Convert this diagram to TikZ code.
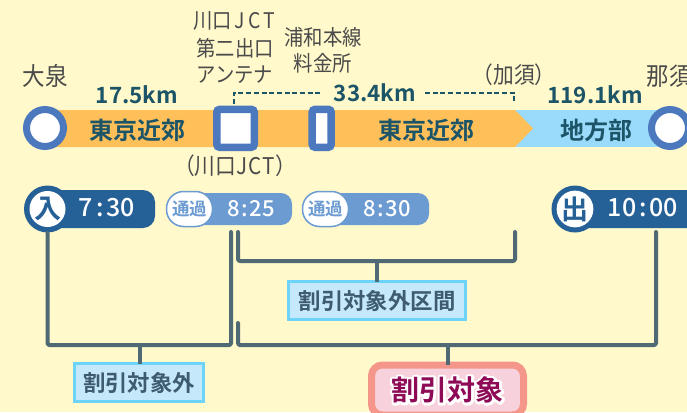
\documentclass[tikz,border=0pt]{standalone}
\usepackage{fontspec}
\setmainfont{Noto Sans CJK JP}[BoldFont={Noto Sans CJK JP Bold}]
\newfontfamily\narrowf{Noto Sans CJK JP}[FakeStretch=0.9]
\newfontfamily\medf{Noto Sans CJK JP Medium}
\definecolor{bg}{HTML}{FFF9CB}
\definecolor{orangeband}{HTML}{FFC05A}
\definecolor{blueband}{HTML}{9ADAFA}
\definecolor{stationblue}{HTML}{4C79BE}
\definecolor{tealtext}{HTML}{1C5468}
\definecolor{graytext}{HTML}{4A4A4A}
\definecolor{darkpill}{HTML}{256096}
\definecolor{lightpill}{HTML}{6C9BD2}
\definecolor{linecol}{HTML}{4F6A75}
\definecolor{boxfill}{HTML}{C5E8FB}
\definecolor{boxline}{HTML}{6DD3F8}
\definecolor{boxtext}{HTML}{3E5C6E}
\definecolor{salmon}{HTML}{F5968A}
\definecolor{pinkfill}{HTML}{F7D2DC}
\definecolor{magentatext}{HTML}{8E0A56}
\newcommand{\fsz}[1]{\fontsize{#1}{#1}\selectfont}
\newcommand{\halotext}[1]{\rlap{\textcolor{white}{\special{pdf:literal 2 Tr 1 1 1 RG 5 w 1 j}#1\special{pdf:literal 0 Tr 0 0 0 RG 1 w 0 j}}}#1}
\tikzset{
  every node/.style={inner sep=0pt,outer sep=0pt},
  station/.style={circle,draw=stationblue,fill=white,line width=7pt,minimum size=37pt},
  plain/.style={text=graytext,font=\narrowf\fsz{21.5}},
  dist/.style={text=tealtext,font=\fsz{22.4}\bfseries},
  zone/.style={text=tealtext,font=\fsz{24}\bfseries},
  timew/.style={text=white,font=\medf\fsz{25}},
  timep/.style={text=white,font=\medf\fsz{22}},
  conn/.style={draw=linecol,line width=4pt,line cap=round,line join=round,rounded corners=2pt},
  dotted link/.style={draw=tealtext,line width=2pt,dash pattern=on 5pt off 2.7pt},
  labelbox/.style={draw=boxline,fill=boxfill,line width=3pt,text=boxtext,font=\fsz{22.4}\bfseries,minimum height=38pt},
  badgecircle/.style={circle,fill=darkpill,minimum size=47pt},
  passbadge/.style={draw=lightpill,fill=white,line width=1.5pt,rounded corners=17pt,minimum width=46pt,minimum height=35pt,text=lightpill,font=\fsz{17.5}\bfseries},
}
\begin{document}
\begin{tikzpicture}[x=1pt,y=-1pt]
\useasboundingbox (0,0) rectangle (687,412);
\clip (0,0) rectangle (687,412);
\fill[bg] (0,0) rectangle (687,412);
% band
\fill[blueband] (500,110) -- (670,110) -- (670,147) -- (500,147) -- cycle;
\fill[orangeband] (45,110) -- (515,110) -- (533,128.5) -- (515,147) -- (45,147) -- cycle;
\node[station] (oizumi) at (45,128) {};
\node[station] (nasu) at (670,128) {};
\node[draw=stationblue,fill=white,line width=7.5pt,rounded corners=3pt,minimum width=37.5pt,minimum height=38pt] (jct) at (235.5,128.3) {};
\node[draw=stationblue,fill=white,line width=7.5pt,rounded corners=3pt,minimum width=19pt,minimum height=38pt] (toll) at (321.7,128.3) {};
% top labels
\node[plain,font=\narrowf\fsz{25}] (l1) at (45,76) {大泉};
\node[plain,font=\narrowf\fsz{25}] (l2) at (669,76) {那須};
\node[plain] (l3) at (234,21) {川口\kern3pt J\kern3pt C\kern3pt T};
\node[plain] (l4) at (235,48) {第二出口};
\node[plain] (l5) at (235,75) {アンテナ};
\node[plain] (l6) at (323,37) {浦和本線};
\node[plain] (l7) at (323,63) {料金所};
\node[plain,font=\narrowf\fsz{23}] (l8) at (514,75) {（加須）};
\node[plain,font=\narrowf\fsz{23}] (l9) at (235,166) {（川口J\kern1pt C\kern1pt T）};
\node[dist] (d1) at (137,95) {17.5km};
\node[dist] (d2) at (375,93) {33.4km};
\node[dist] (d3) at (595,95) {119.1km};
\node[zone] (z1) at (137,130) {東京近郊};
\node[zone] (z2) at (426,130) {東京近郊};
\node[zone] (z3) at (596,130) {地方部};
% dashed distance link
\coordinate (da) at (234,104);
\coordinate (db) at (234,93);
\coordinate (dc) at (323,93);
\coordinate (dd) at (425,93);
\coordinate (de) at (514,93);
\coordinate (df) at (514,104);
\draw[dotted link] (da) -- (db) -- (dc);
\draw[dotted link] (dd) -- (de) -- (df);
% times
\fill[darkpill,rounded corners=12pt] (47,190) rectangle (155,228);
\node[badgecircle] (inb) at (47.5,209) {};
\node[circle,fill=white,minimum size=35pt,text=darkpill,font=\fsz{27}\bfseries] (inw) at (47.5,209) {入};
\node[timew] (t1) at (107,208) {7\kern3pt:\kern3pt 30};
\fill[lightpill,rounded corners=11pt] (190,193) rectangle (292,225);
\node[passbadge] (p1) at (189.5,209) {通過};
\node[timep] (t2) at (251,209) {8\kern1.5pt:\kern1.5pt 25};
\fill[lightpill,rounded corners=11pt] (326,193) rectangle (429,225);
\node[passbadge] (p2) at (325.5,209) {通過};
\node[timep] (t3) at (387,209) {8\kern1.5pt:\kern1.5pt 30};
\fill[darkpill,rounded corners=12pt] (575,190) rectangle (700,228);
\node[badgecircle] (outb) at (575,209) {};
\node[circle,fill=white,minimum size=35pt,text=darkpill,font=\fsz{27}\bfseries] (outw) at (575,209) {出};
\node[timew] (t4) at (643,208) {10\kern3pt:\kern3pt 00};
% boxes
\node[labelbox,minimum width=177pt] (b1) at (377,300.5) {割引対象外区間};
\node[labelbox,minimum width=129pt] (b2) at (139,382.5) {割引対象外};
\node[draw=salmon,fill=pinkfill,line width=7pt,rounded corners=11pt,minimum width=152pt,minimum height=50pt,text=magentatext,font=\fsz{28}\bfseries] (b3) at (447.5,390) {\halotext{割引対象}};
% connectors
\coordinate (a1) at (47.5,233);
\coordinate (a2) at (47.5,345);
\coordinate (a3) at (231,345);
\coordinate (a4) at (231,232);
\coordinate (a5) at (140,345);
\draw[conn] (a1) -- (a2) -- (a3) -- (a4);
\draw[conn,line cap=butt] (a5) -- (a5 |- b2.north);
\coordinate (c1) at (238,323);
\coordinate (c2) at (238,345);
\coordinate (c3) at (656,345);
\coordinate (c4) at (656,232);
\coordinate (c5) at (448,345);
\draw[conn] (c1) -- (c2) -- (c3) -- (c4);
\draw[conn,line cap=butt] (c5) -- (c5 |- b3.north);
\coordinate (e1) at (238,232);
\coordinate (e2) at (238,261);
\coordinate (e3) at (515,261);
\coordinate (e4) at (515,232);
\coordinate (e5) at (377,261);
\draw[conn] (e1) -- (e2) -- (e3) -- (e4);
\draw[conn,line cap=butt] (e5) -- (b1.north);
\end{tikzpicture}
\end{document}
